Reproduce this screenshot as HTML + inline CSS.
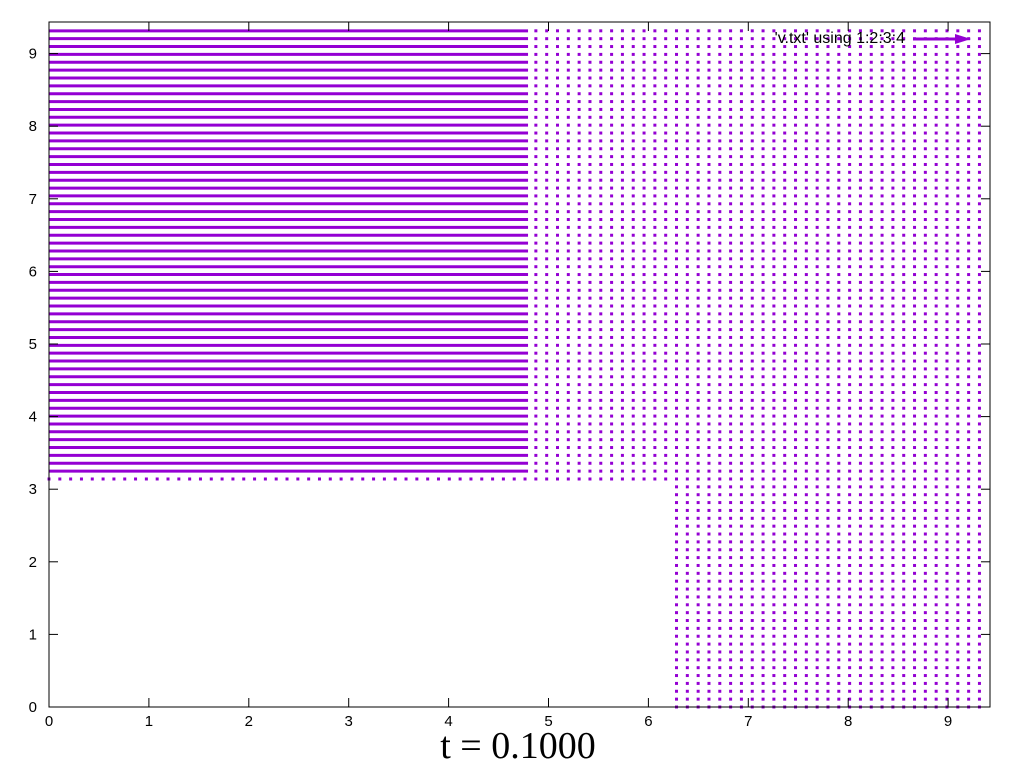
<!DOCTYPE html>
<html><head><meta charset="utf-8"><style>
html,body{margin:0;padding:0;background:#fff;}
svg{display:block;font-family:"Liberation Sans",sans-serif;}
</style></head><body>
<svg id="chart" width="1024" height="768" viewBox="0 0 1024 768" xmlns="http://www.w3.org/2000/svg">
<g id="marks"></g>
<g id="axes"></g>
<text x="905" y="43" font-size="16" text-anchor="end" fill="#000">'v.txt' using 1:2:3:4</text>
<g>
<line x1="913" y1="39" x2="962" y2="39" stroke="#9400d3" stroke-width="3"/>
<polygon points="971,39 955,34 955,44" fill="#9400d3"/>
</g>
<text x="518" y="758" font-size="38" text-anchor="middle" font-family="Liberation Serif, serif" fill="#000">t = 0.1000</text>
</svg>
<script>
// data
const gridStep = 0.1083;
const gridCount = 87;
// regions: [colStart, colEnd, rowStart, rowEnd, kind]
const regionCols0 = [0, 45, 0, 58];
const regionCols1 = [44, 86, 86, 86];
const regionRows0 = [30, 30, 29, 0];
const regionRows1 = [86, 86, 29, 28];
const regionKind = ["line", "dot", "dot", "dot"];
const xTicks = [0,1,2,3,4,5,6,7,8,9];
const yTicks = [0,1,2,3,4,5,6,7,8,9];

const L=49,R=990,T=22,B=707;
const xScale=v=>L+v*99.9;
const yScale=v=>B-v*72.6;
const NS="http://www.w3.org/2000/svg";
const marks=document.getElementById('marks');
const axes=document.getElementById('axes');
const C="#9400d3";
for(let r=0;r<regionKind.length;r++){
  for(let j=regionRows0[r];j<=regionRows1[r];j++){
    const y=yScale(j*gridStep);
    if(regionKind[r]==="line"){
      const ln=document.createElementNS(NS,'line');
      
      
      ln.setAttribute('x1',xScale(regionCols0[r]*gridStep));
      ln.setAttribute('x2',xScale(regionCols1[r]*gridStep)+3);
      ln.setAttribute('y1',y);ln.setAttribute('y2',y);
      ln.setAttribute('stroke',C);ln.setAttribute('stroke-width',3);
      marks.appendChild(ln);
    } else {
      for(let i=regionCols0[r];i<=regionCols1[r];i++){
        const rc=document.createElementNS(NS,'rect');
        
        
        rc.setAttribute('x',xScale(i*gridStep)-1.5);
        rc.setAttribute('y',y-1.5);
        rc.setAttribute('width',3);rc.setAttribute('height',3);
        rc.setAttribute('fill',C);
        marks.appendChild(rc);
      }
    }
  }
}
function mk(tag,attrs){const e=document.createElementNS(NS,tag);for(const k in attrs)e.setAttribute(k,attrs[k]);axes.appendChild(e);return e;}
const border=mk('rect',{x:L,y:T,width:R-L,height:B-T,fill:'none',stroke:'#000','stroke-width':1});


xTicks.forEach(v=>{
  const x=xScale(v);
  const t1=mk('line',{x1:x,x2:x,y1:B,y2:B-9,stroke:'#000'});
  
  
  const t2=mk('line',{x1:x,x2:x,y1:T,y2:T+9,stroke:'#000'});
  
  
  const lb=mk('text',{x:x,y:B+19,'font-size':15,'text-anchor':'middle',fill:'#000'});
  lb.textContent=v;
  
  
});
yTicks.forEach(v=>{
  const y=yScale(v);
  const t1=mk('line',{x1:L,x2:L+9,y1:y,y2:y,stroke:'#000'});
  
  
  const t2=mk('line',{x1:R,x2:R-9,y1:y,y2:y,stroke:'#000'});
  
  
  const lb=mk('text',{x:37,y:y+5,'font-size':15,'text-anchor':'end',fill:'#000'});
  lb.textContent=v;
  
  
});
</script>
</body></html>
